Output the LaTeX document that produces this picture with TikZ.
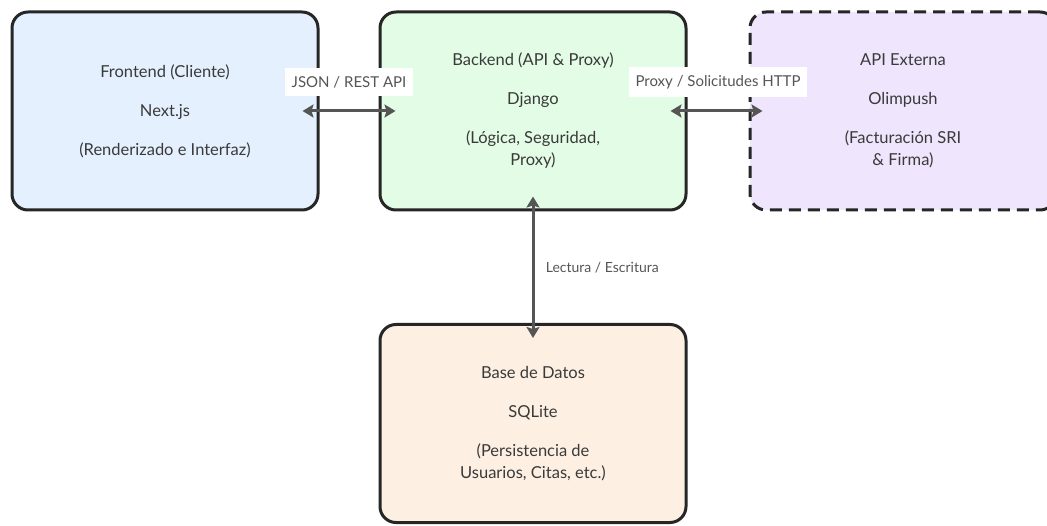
\documentclass[tikz,border=0pt]{standalone}
\usepackage{fontspec}
\setmainfont{Lato}
\usetikzlibrary{arrows.meta}
\definecolor{bord}{HTML}{262626}
\definecolor{txt}{HTML}{3A3A3A}
\definecolor{arrc}{HTML}{555555}
\definecolor{feF}{HTML}{E4F0FD}
\definecolor{beF}{HTML}{E3FCE5}
\definecolor{apF}{HTML}{EFE5FC}
\definecolor{dbF}{HTML}{FDF0E3}
\tikzset{
  box/.style={draw=bord, line width=3pt, rounded corners=16pt, minimum width=306pt, minimum height=198pt, inner sep=0pt, align=center, text=txt, font=\fontsize{16.5}{22}\selectfont},
  arr/.style={draw=arrc, line width=3pt, {Stealth[length=11pt,width=13pt,inset=2pt]}-{Stealth[length=11pt,width=13pt,inset=2pt]}},
  lbl/.style={fill=white, text=arrc, font=\fontsize{15}{18}\selectfont, inner xsep=7pt, inner ysep=8pt}
}
\begin{document}
\begin{tikzpicture}[x=1pt,y=-1pt]
\useasboundingbox (0,0) rectangle (1047,526);
\begin{scope}
\clip (0,0) rectangle (1047,526);
\node[box, fill=feF] (fe) at (165,111) {Frontend (Cliente)\\[17pt]Next.js\\[17pt](Renderizado e Interfaz)};
\node[box, fill=beF] (be) at (533,111) {Backend (API \& Proxy)\\[17pt]Django\\[17pt](Lógica, Seguridad,\\Proxy)};
\node[box, fill=apF, dashed, dash pattern=on 12pt off 7pt] (ap) at (903,111) {API Externa\\[17pt]Olimpush\\[17pt](Facturación SRI\\\& Firma)};
\node[box, fill=dbF] (db) at (533,423.5) {Base de Datos\\[17pt]SQLite\\[17pt](Persistencia de\\Usuarios, Citas, etc.)};
\draw[arr, shorten <=-17pt, shorten >=-17pt] (fe) -- (be) node[lbl, midway, yshift=29pt] {JSON / REST API};
\draw[arr, shorten <=-17pt, shorten >=-14pt] (be) -- (ap) node[lbl, midway, yshift=29pt] {Proxy / Solicitudes HTTP};
\draw[arr, shorten <=-15pt, shorten >=-15pt] (be) -- (db) node[midway, right=8pt, text=arrc, font=\fontsize{14}{16}\selectfont] {Lectura / Escritura};
\end{scope}
\end{tikzpicture}
\end{document}
